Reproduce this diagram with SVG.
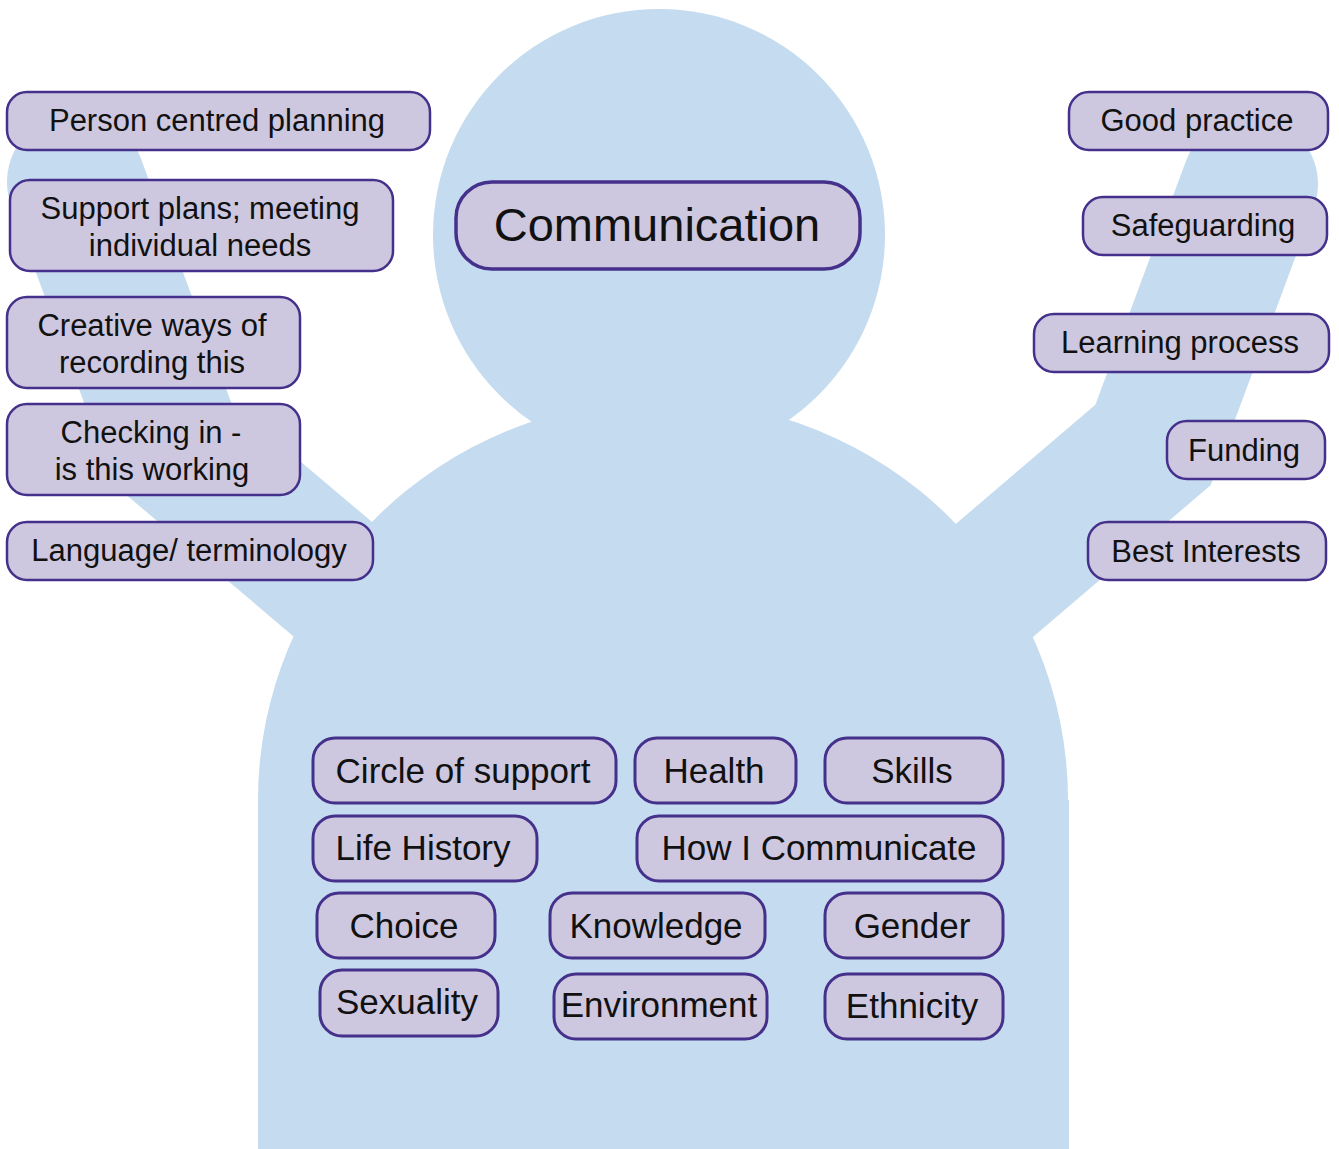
<svg xmlns="http://www.w3.org/2000/svg" width="1339" height="1149" viewBox="0 0 1339 1149">
<style>
.fig{fill:#c5dbef}
.arm{fill:none;stroke:#c5dbef;stroke-linejoin:miter;stroke-linecap:round}
.box{fill:#cdc8df;stroke:#45318b;stroke-width:2.5}
.bbox{fill:#cdc8df;stroke:#45318b;stroke-width:3}
.t{font-family:"Liberation Sans",Arial,sans-serif;fill:#111;text-anchor:middle}
.s31{font-size:31px}
.s35{font-size:35px}
</style>
<rect width="1339" height="1149" fill="#ffffff"/>
<g id="figure">
<polyline class="arm" stroke-width="138" points="420,653 173,444 76,182"/>
<polyline class="arm" stroke-width="136" points="900,661 1153,445 1250,184"/>
<circle class="fig" cx="659" cy="235" r="226"/>
<ellipse class="fig" cx="663" cy="800" rx="405" ry="400"/>
<rect class="fig" x="258" y="800" width="811" height="349"/>
</g>
<g id="connectors"/>
<g id="n-person">
<rect class="box" x="7" y="92" width="423" height="58" rx="20"/>
<text class="t s31" x="217" y="131">Person centred planning</text>
</g>
<g id="n-support">
<rect class="box" x="10" y="180" width="383" height="91" rx="20"/>
<text class="t s31" x="200" y="219">Support plans; meeting</text>
<text class="t s31" x="200" y="256">individual needs</text>
</g>
<g id="n-creative">
<rect class="box" x="7" y="297" width="293" height="91" rx="20"/>
<text class="t s31" x="152" y="336">Creative ways of</text>
<text class="t s31" x="152" y="373">recording this</text>
</g>
<g id="n-checking">
<rect class="box" x="7" y="404" width="293" height="91" rx="20"/>
<text class="t s31" x="151" y="443">Checking in -</text>
<text class="t s31" x="152" y="480">is this working</text>
</g>
<g id="n-language">
<rect class="box" x="7" y="522" width="366" height="58" rx="20"/>
<text class="t s31" x="189" y="561">Language/ terminology</text>
</g>
<g id="n-good">
<rect class="box" x="1069" y="92" width="259" height="58" rx="20"/>
<text class="t s31" x="1197" y="131">Good practice</text>
</g>
<g id="n-safeguarding">
<rect class="box" x="1083" y="197" width="244" height="58" rx="20"/>
<text class="t s31" x="1203" y="236">Safeguarding</text>
</g>
<g id="n-learning">
<rect class="box" x="1034" y="314" width="295" height="58" rx="20"/>
<text class="t s31" x="1180" y="353">Learning process</text>
</g>
<g id="n-funding">
<rect class="box" x="1167" y="421" width="158" height="58" rx="20"/>
<text class="t s31" x="1244" y="461">Funding</text>
</g>
<g id="n-best">
<rect class="box" x="1088" y="522" width="238" height="58" rx="20"/>
<text class="t s31" x="1206" y="562">Best Interests</text>
</g>
<g id="n-communication">
<rect x="456" y="182" width="404" height="87" rx="36" fill="#cdc8df" stroke="#45318b" stroke-width="3.5"/>
<text class="t" x="657" y="241" font-size="47">Communication</text>
</g>
<g id="n-circle">
<rect class="bbox" x="313" y="738" width="303" height="65" rx="22"/>
<text class="t s35" x="463" y="783">Circle of support</text>
</g>
<g id="n-health">
<rect class="bbox" x="635" y="738" width="161" height="65" rx="22"/>
<text class="t s35" x="714" y="783">Health</text>
</g>
<g id="n-skills">
<rect class="bbox" x="825" y="738" width="178" height="65" rx="22"/>
<text class="t s35" x="912" y="783">Skills</text>
</g>
<g id="n-life">
<rect class="bbox" x="313" y="816" width="224" height="65" rx="22"/>
<text class="t s35" x="423" y="860">Life History</text>
</g>
<g id="n-how">
<rect class="bbox" x="637" y="816" width="366" height="65" rx="22"/>
<text class="t s35" x="819" y="860">How I Communicate</text>
</g>
<g id="n-choice">
<rect class="bbox" x="317" y="893" width="178" height="65" rx="22"/>
<text class="t s35" x="404" y="938">Choice</text>
</g>
<g id="n-knowledge">
<rect class="bbox" x="550" y="893" width="215" height="65" rx="22"/>
<text class="t s35" x="656" y="938">Knowledge</text>
</g>
<g id="n-gender">
<rect class="bbox" x="825" y="893" width="178" height="65" rx="22"/>
<text class="t s35" x="912" y="938">Gender</text>
</g>
<g id="n-sexuality">
<rect class="bbox" x="320" y="970" width="178" height="66" rx="22"/>
<text class="t s35" x="407" y="1014">Sexuality</text>
</g>
<g id="n-environment">
<rect class="bbox" x="554" y="974" width="213" height="65" rx="22"/>
<text class="t s35" x="659" y="1017">Environment</text>
</g>
<g id="n-ethnicity">
<rect class="bbox" x="825" y="974" width="178" height="65" rx="22"/>
<text class="t s35" x="912" y="1018">Ethnicity</text>
</g>
</svg>
